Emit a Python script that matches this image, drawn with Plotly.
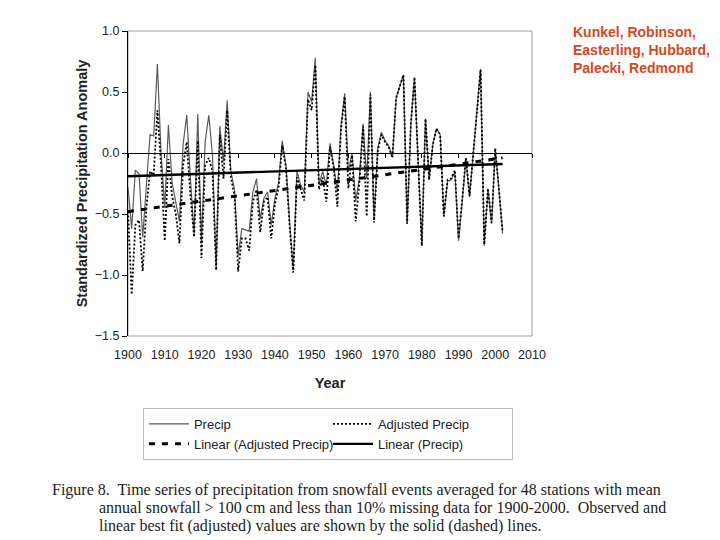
import plotly.graph_objects as go

years = list(range(1900, 2003))

precip = [
    -0.28, -0.62, -0.14, -0.17, -0.69, -0.30, 0.15, 0.14, 0.73, 0.00,
    -0.45, 0.23, -0.24, -0.40, -0.56, 0.07, 0.31, -0.21, -0.67, 0.32,
    -0.73, 0.09, 0.31, -0.02, -0.92, 0.22, -0.07, 0.43, -0.15, -0.30,
    -0.84, -0.62, -0.63, -0.64, -0.32, -0.21, -0.54, -0.37, -0.32, -0.59,
    -0.37, -0.24, 0.10, -0.10, -0.56, -0.96, -0.15, -0.26, -0.32, 0.50,
    0.42, 0.78, -0.26, -0.15, -0.26, 0.08, -0.10, -0.32, 0.23, 0.49,
    -0.15, 0.00, -0.39, -0.21, 0.24, -0.21, 0.50, -0.55, 0.04, 0.17,
    0.10, 0.06, -0.03, 0.45, 0.55, 0.64, -0.58, 0.23, 0.62, -0.02,
    -0.76, 0.28, -0.22, 0.07, 0.20, 0.15, -0.52, -0.23, -0.22, -0.16,
    -0.72, -0.40, -0.05, -0.36, 0.00, 0.30, 0.69, -0.76, -0.30, -0.58,
    0.03, -0.30, -0.66,
]

adjusted = [
    -0.48, -1.16, -0.59, -0.55, -0.97, -0.45, -0.15, -0.18, 0.35, -0.10,
    -0.72, -0.05, -0.35, -0.50, -0.74, -0.10, 0.09, -0.35, -0.69, 0.10,
    -0.86, -0.10, -0.04, -0.15, -0.96, 0.15, -0.21, 0.35, -0.20, -0.35,
    -0.97, -0.70, -0.70, -0.80, -0.40, -0.30, -0.65, -0.40, -0.36, -0.70,
    -0.42, -0.28, 0.06, -0.12, -0.60, -0.98, -0.20, -0.30, -0.39, 0.44,
    0.35, 0.72, -0.30, -0.20, -0.40, 0.05, -0.12, -0.44, 0.20, 0.46,
    -0.29, -0.02, -0.56, -0.24, 0.22, -0.52, 0.48, -0.57, 0.02, 0.15,
    0.09, 0.05, -0.04, 0.45, 0.55, 0.64, -0.58, 0.23, 0.62, -0.02,
    -0.76, 0.28, -0.22, 0.07, 0.20, 0.15, -0.52, -0.22, -0.21, -0.14,
    -0.70, -0.38, -0.04, -0.35, 0.01, 0.30, 0.68, -0.75, -0.29, -0.57,
    0.04, -0.30, -0.65,
]

trend_years = [1900, 2002]
trend_adjusted = [-0.48, -0.04]
trend_precip = [-0.19, -0.09]

x_ticks = list(range(1900, 2011, 10))
y_ticks = [1.0, 0.5, 0.0, -0.5, -1.0, -1.5]

caption_lines = [
    "Figure 8.  Time series of precipitation from snowfall events averaged for 48 stations with mean",
    "annual snowfall &gt; 100 cm and less than 10% missing data for 1900-2000.  Observed and",
    "linear best fit (adjusted) values are shown by the solid (dashed) lines.",
]
authors = "Kunkel, Robinson,<br>Easterling, Hubbard,<br>Palecki, Redmond"

SANS = "Liberation Sans, Arial, sans-serif"
SERIF = "Liberation Serif, Times New Roman, serif"

fig = go.Figure()
fig.add_trace(go.Scatter(x=years, y=precip, mode="lines", name="Precip",
                         line=dict(color="#5a5a5a", width=1.2)))
fig.add_trace(go.Scatter(x=years, y=adjusted, mode="lines", name="Adjusted Precip",
                         line=dict(color="black", width=1.8, dash="2px,2px")))
fig.add_trace(go.Scatter(x=trend_years, y=trend_adjusted, mode="lines",
                         name="Linear (Adjusted Precip)",
                         line=dict(color="black", width=3, dash="6px,7px")))
fig.add_trace(go.Scatter(x=trend_years, y=trend_precip, mode="lines",
                         name="Linear (Precip)", xaxis="x2",
                         line=dict(color="black", width=2.4)))

fig.update_layout(
    width=712, height=532,
    margin=dict(l=120, r=188, t=23, b=204, autoexpand=False),
    paper_bgcolor="white", plot_bgcolor="white",
    font=dict(family=SANS, size=12, color="#222222"),
    xaxis=dict(range=[1900, 2010], tickvals=x_ticks, showgrid=False, zeroline=False,
               showline=False, ticks="outside", ticklen=7, tickcolor="rgba(0,0,0,0)",
               tickfont=dict(size=12.5), automargin=False,
               title=dict(text="<b>Year</b>", font=dict(size=14.5), standoff=16)),
    xaxis2=dict(range=[1900, 2010], overlaying="x", anchor="free", position=0.6,
                matches="x", tickvals=x_ticks, showticklabels=False, ticks="outside",
                ticklen=4, tickcolor="black", showline=True, linecolor="black",
                linewidth=1, showgrid=False, zeroline=False, automargin=False),
    yaxis=dict(range=[-1.5, 1.0], tickvals=y_ticks, tickformat=".1f", showgrid=False,
               zeroline=False, showline=True, linecolor="black", linewidth=1,
               ticks="outside", ticklen=5, tickcolor="black", tickfont=dict(size=12.5),
               automargin=False,
               title=dict(text="<b>Standardized Precipitation Anomaly</b>",
                          font=dict(size=14.5), standoff=3)),
    legend=dict(orientation="h", x=0.037, y=-0.236, xanchor="left", yanchor="top",
                entrywidth=129, bordercolor="#bbbbbb", borderwidth=1,
                font=dict(size=13, color="#222222"), tracegroupgap=0,
                itemwidth=40),
    showlegend=True,
)

# grey plot-area border
fig.add_shape(type="rect", xref="paper", yref="paper", x0=0, y0=0, x1=1, y1=1,
              line=dict(color="#a0a0a0", width=1), layer="below")

cap_y = [-0.504, -0.563, -0.622]
cap_x = [-0.193, -0.0767, -0.0767]
for txt, cx, cy in zip(caption_lines, cap_x, cap_y):
    fig.add_annotation(text=txt, xref="paper", yref="paper", x=cx, y=cy,
                       xanchor="left", yanchor="middle", showarrow=False,
                       font=dict(family=SERIF, size=16, color="#222222"))

fig.add_annotation(text="<b>" + authors + "</b>", xref="paper", yref="paper",
                   x=1.0965, y=1.03, xanchor="left", yanchor="top", align="left",
                   showarrow=False,
                   font=dict(family=SANS, size=14, color="#D9471C"))

fig.write_html("out.html")
